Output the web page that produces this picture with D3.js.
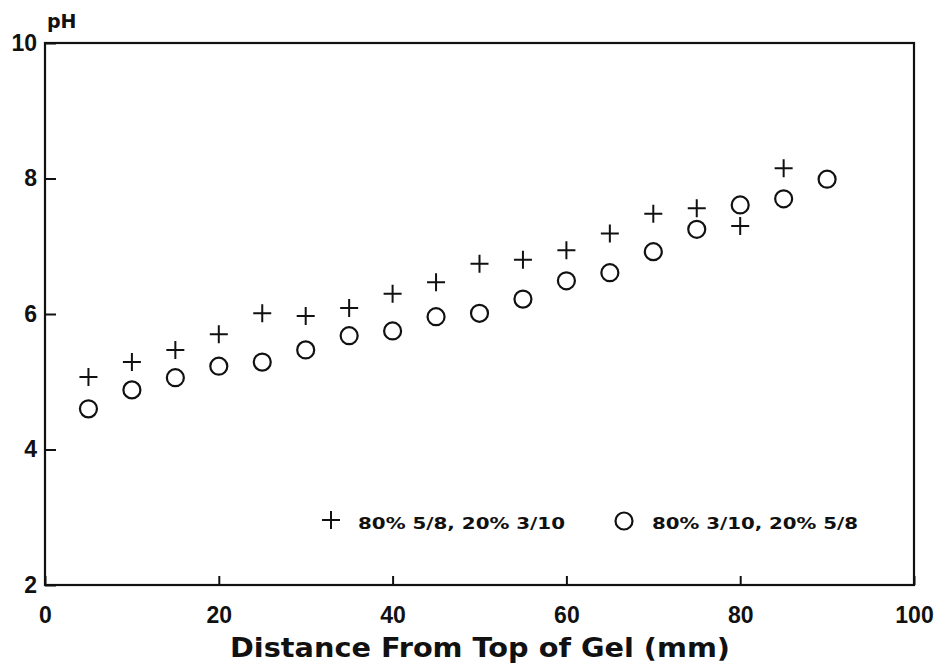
<!DOCTYPE html>
<html>
<head>
<meta charset="utf-8">
<script src="https://cdn.jsdelivr.net/npm/d3@7"></script>
<style>
  body { margin: 0; background: #fff; }
  text { font-family: "Liberation Sans", Arial, sans-serif; font-weight: bold; fill: #111; }
  .heavy { font-family: "DejaVu Sans", sans-serif; font-weight: bold; }
</style>
</head>
<body>
<div id="chart"></div>
<script>
// data
const distPlus = [5, 10, 15, 20, 25, 30, 35, 40, 45, 50, 55, 60, 65, 70, 75, 80, 85];
const phPlus = [5.07, 5.29, 5.47, 5.70, 6.01, 5.97, 6.09, 6.30, 6.47, 6.74, 6.80, 6.94, 7.19, 7.48, 7.56, 7.30, 8.15];
const distCircle = [5, 10, 15, 20, 25, 30, 35, 40, 45, 50, 55, 60, 65, 70, 75, 80, 85, 90];
const phCircle = [4.60, 4.88, 5.06, 5.23, 5.29, 5.47, 5.68, 5.75, 5.96, 6.01, 6.22, 6.49, 6.61, 6.92, 7.25, 7.61, 7.70, 7.99];
const xTicks = [0, 20, 40, 60, 80, 100];
const yTicks = [2, 4, 6, 8, 10];
const legendLabels = ["80% 5/8, 20% 3/10", "80% 3/10, 20% 5/8"];

const WIDTH = 938;
const HEIGHT = 667;
const margin = { left: 45, right: 24, top: 43, bottom: 82 };
const INK = "#111";

const svg = d3.select("#chart").append("svg")
    .attr("width", WIDTH)
    .attr("height", HEIGHT);

const x = d3.scaleLinear().domain([0, 100]).range([margin.left, WIDTH - margin.right]);
const y = d3.scaleLinear().domain([2, 10]).range([HEIGHT - margin.bottom, margin.top]);

// frame
svg.append("rect")
    .attr("x", x(0))
    .attr("y", y(10))
    .attr("width", x(100) - x(0))
    .attr("height", y(2) - y(10))
    .attr("fill", "none")
    .attr("stroke", INK)
    .attr("stroke-width", 2.2);

// inward ticks
const xAxis = svg.append("g")
    .attr("transform", `translate(0,${y(2)})`)
    .call(d3.axisBottom(x).tickValues(xTicks).tickSizeInner(-9).tickSizeOuter(0).tickPadding(22));
xAxis.select(".domain").remove();
xAxis.selectAll("line").attr("stroke", INK).attr("stroke-width", 2);
xAxis.selectAll("text").attr("font-size", 23).attr("fill", INK);

const yAxis = svg.append("g")
    .attr("transform", `translate(${x(0)},0)`)
    .call(d3.axisLeft(y).tickValues(yTicks).tickSizeInner(-11).tickSizeOuter(0).tickPadding(8));
yAxis.select(".domain").remove();
yAxis.selectAll("line").attr("stroke", INK).attr("stroke-width", 2);
yAxis.selectAll("text").attr("font-size", 23).attr("fill", INK);

// axis titles
svg.append("text")
    .attr("class", "heavy")
    .attr("x", 47)
    .attr("y", 28)
    .attr("font-size", 19)
    .text("pH");

svg.append("text")
    .attr("class", "heavy")
    .attr("x", 230)
    .attr("y", 657)
    .attr("font-size", 26)
    .attr("textLength", 500)
    .attr("lengthAdjust", "spacingAndGlyphs")
    .text("Distance From Top of Gel (mm)");

// markers
const PLUS = 9;
const R = 8.5;

const plusData = distPlus.map((d, i) => [d, phPlus[i]]);
const circleData = distCircle.map((d, i) => [d, phCircle[i]]);

function drawPlus(g, cx, cy) {
    g.append("path")
        .attr("d", `M${cx - PLUS},${cy}H${cx + PLUS}M${cx},${cy - PLUS}V${cy + PLUS}`)
        .attr("stroke", INK)
        .attr("stroke-width", 2)
        .attr("fill", "none");
}

const plusG = svg.append("g");
plusData.forEach(d => drawPlus(plusG, x(d[0]), y(d[1])));

svg.append("g").selectAll("circle")
    .data(circleData)
    .enter()
    .append("circle")
    .attr("cx", d => x(d[0]))
    .attr("cy", d => y(d[1]))
    .attr("r", R)
    .attr("fill", "none")
    .attr("stroke", INK)
    .attr("stroke-width", 2.2);

// legend
const legend = svg.append("g");
drawPlus(legend, 331, 520);
legend.append("text")
    .attr("class", "heavy")
    .attr("x", 358)
    .attr("y", 529)
    .attr("font-size", 16)
    .attr("textLength", 207)
    .attr("lengthAdjust", "spacingAndGlyphs")
    .text(legendLabels[0]);
legend.append("circle")
    .attr("cx", 624)
    .attr("cy", 521)
    .attr("r", R)
    .attr("fill", "none")
    .attr("stroke", INK)
    .attr("stroke-width", 2.2);
legend.append("text")
    .attr("class", "heavy")
    .attr("x", 652)
    .attr("y", 529)
    .attr("font-size", 16)
    .attr("textLength", 206)
    .attr("lengthAdjust", "spacingAndGlyphs")
    .text(legendLabels[1]);
</script>
</body>
</html>
